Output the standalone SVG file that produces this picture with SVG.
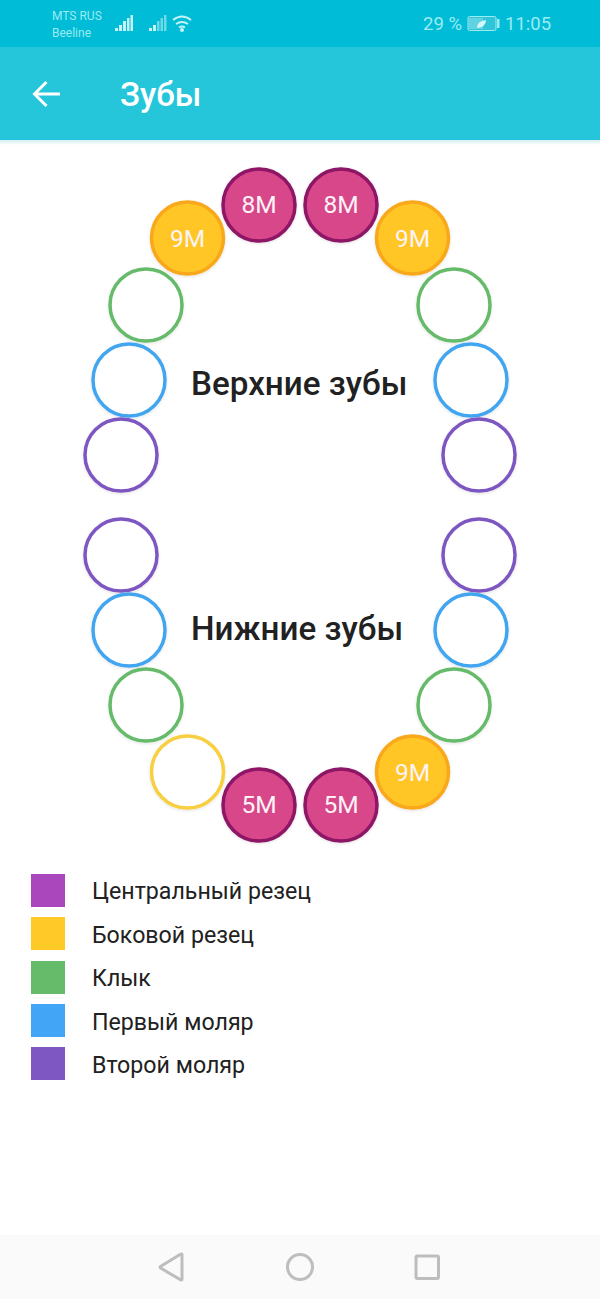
<svg xmlns="http://www.w3.org/2000/svg" width="600" height="1299" viewBox="0 0 600 1299">
<style>
text{font-family:Roboto,"Noto Sans",sans-serif}
.t{fill:#fff;stroke-width:3.5;filter:url(#sh)}
.c{fill:#d8478a;stroke:#8e1566}
.y{fill:#ffc627;stroke:#f9a81b}
.ye{fill:#fff;stroke:#f7cf3f}
.g{fill:#fff;stroke:#66bb6a}
.b{fill:#fff;stroke:#42a5f0}
.p{fill:#fff;stroke:#7e57c2}
.l{font-size:24.500px;font-weight:400;fill:#fdf3f7;text-anchor:middle}
.h{font-size:33.200px;font-weight:500;fill:#212121}
.k{font-size:23.200px;fill:#212121}
.s{fill:#9cebf3}
.n{fill:none;stroke:#bdbdbd;stroke-width:3;stroke-linejoin:round}
</style>
<defs>
<filter id="sh" x="-20%" y="-20%" width="140%" height="140%"><feDropShadow dx="0" dy="1" stdDeviation="1.500" flood-color="#000" flood-opacity=".12"/></filter>
<linearGradient id="bar" x1="0" y1="0" x2="0" y2="1"><stop offset="0" stop-color="#d5eef3"/><stop offset="1" stop-color="#fff"/></linearGradient>
</defs>
<rect width="600" height="1299" fill="#fff"/>
<g id="appbar">
<rect width="600" height="47" fill="#00bcd6"/>
<rect y="47" width="600" height="93" fill="#26c6da"/>
<rect y="140" width="600" height="5" fill="url(#bar)"/>
<text x="52" y="20" font-size="12" class="s">MTS RUS</text>
<text x="52" y="37" font-size="12" class="s">Beeline</text>
<path fill="#c4f3f8" d="M115 28h3v3h-3zM119 25h3v6h-3zM123 21h3v10h-3zM127 18h2.500v13h-2.500zM130.500 15h2.500v16h-2.500z"/>
<path fill="#c4f3f8" d="M149 28h3v3h-3zM153 25h3v6h-3z"/>
<path fill="#6fd9e6" d="M157 21h2.500v10h-2.500zM160.500 18h2.500v13h-2.500zM164 15h2.500v16h-2.500z"/>
<path fill="none" stroke="#c4f3f8" stroke-width="2" d="M173 20q9-7 18 0M176 24q6-4 12 0M179 27.500q3-2 6 0"/>
<circle cx="182" cy="30" r="2" fill="#c4f3f8"/>
<text x="423" y="30" font-size="18.500" class="s">29 %</text>
<rect x="468" y="16.500" width="28" height="14" rx="1.500" fill="#2fc4d8" stroke="#9cebf3"/>
<rect x="469" y="18" width="14" height="11" fill="#5fd3e2"/>
<rect x="497" y="19" width="2.500" height="9" fill="#9cebf3"/>
<path fill="#d5f6fa" d="M477 28q0-7 9-8q0 7-9 8z"/>
<text x="505" y="30" font-size="18.500" class="s">11:05</text>
<path fill="none" stroke="#fff" stroke-width="3" d="M35 94h25M46.500 82l-12 12l12 12"/>
<text x="120" y="106" font-size="33" font-weight="500" fill="#fff">Зубы</text>
</g>
<g id="connectors"></g>
<g id="t1"><circle class="t c" cx="259" cy="205" r="36"/><text class="l" x="259" y="213">8M</text></g>
<g id="t2"><circle class="t c" cx="341" cy="205" r="36"/><text class="l" x="341" y="213">8M</text></g>
<g id="t3"><circle class="t y" cx="187.500" cy="238" r="36"/><text class="l" x="187.500" y="247">9M</text></g>
<g id="t4"><circle class="t y" cx="412.500" cy="238" r="36"/><text class="l" x="412.500" y="247">9M</text></g>
<g id="t5"><circle class="t g" cx="146" cy="305" r="36"/></g>
<g id="t6"><circle class="t g" cx="454" cy="305" r="36"/></g>
<g id="t7"><circle class="t b" cx="129" cy="380" r="36"/></g>
<g id="t8"><circle class="t b" cx="471" cy="380" r="36"/></g>
<g id="t9"><circle class="t p" cx="121" cy="455" r="36"/></g>
<g id="t10"><circle class="t p" cx="479" cy="455" r="36"/></g>
<g id="t11"><circle class="t p" cx="121" cy="555" r="36"/></g>
<g id="t12"><circle class="t p" cx="479" cy="555" r="36"/></g>
<g id="t13"><circle class="t b" cx="129" cy="630" r="36"/></g>
<g id="t14"><circle class="t b" cx="471" cy="630" r="36"/></g>
<g id="t15"><circle class="t g" cx="146" cy="705" r="36"/></g>
<g id="t16"><circle class="t g" cx="454" cy="705" r="36"/></g>
<g id="t17"><circle class="t ye" cx="187.500" cy="772" r="36"/></g>
<g id="t18"><circle class="t y" cx="412.500" cy="772" r="36"/><text class="l" x="412.500" y="781">9M</text></g>
<g id="t19"><circle class="t c" cx="259" cy="805" r="36"/><text class="l" x="259" y="813">5M</text></g>
<g id="t20"><circle class="t c" cx="341" cy="805" r="36"/><text class="l" x="341" y="813">5M</text></g>
<text class="h" x="191" y="395">Верхние зубы</text>
<text class="h" x="191" y="640">Нижние зубы</text>
<g id="legend">
<rect x="31" y="874" width="34" height="33" fill="#ab47bc"/><text class="k" x="92" y="899">Центральный резец</text>
<rect x="31" y="917" width="34" height="33" fill="#ffca28"/><text class="k" x="92" y="943">Боковой резец</text>
<rect x="31" y="961" width="34" height="33" fill="#66bb6a"/><text class="k" x="92" y="986">Клык</text>
<rect x="31" y="1004" width="34" height="33" fill="#42a5f5"/><text class="k" x="92" y="1030">Первый моляр</text>
<rect x="31" y="1047" width="34" height="33" fill="#7e57c2"/><text class="k" x="92" y="1073">Второй моляр</text>
</g>
<g id="navbar">
<rect y="1235" width="600" height="64" fill="#fafafa"/>
<path class="n" d="M182 1254.500v24.500q0 1.500-1.500 .8l-19.500-11.500q-1.500-1-.5-1.800l19.500-12q2-1 2 0z"/>
<circle class="n" cx="300" cy="1267" r="12.500"/>
<rect class="n" x="416" y="1256" width="22.500" height="22.500" rx="1.500"/>
</g>
</svg>
